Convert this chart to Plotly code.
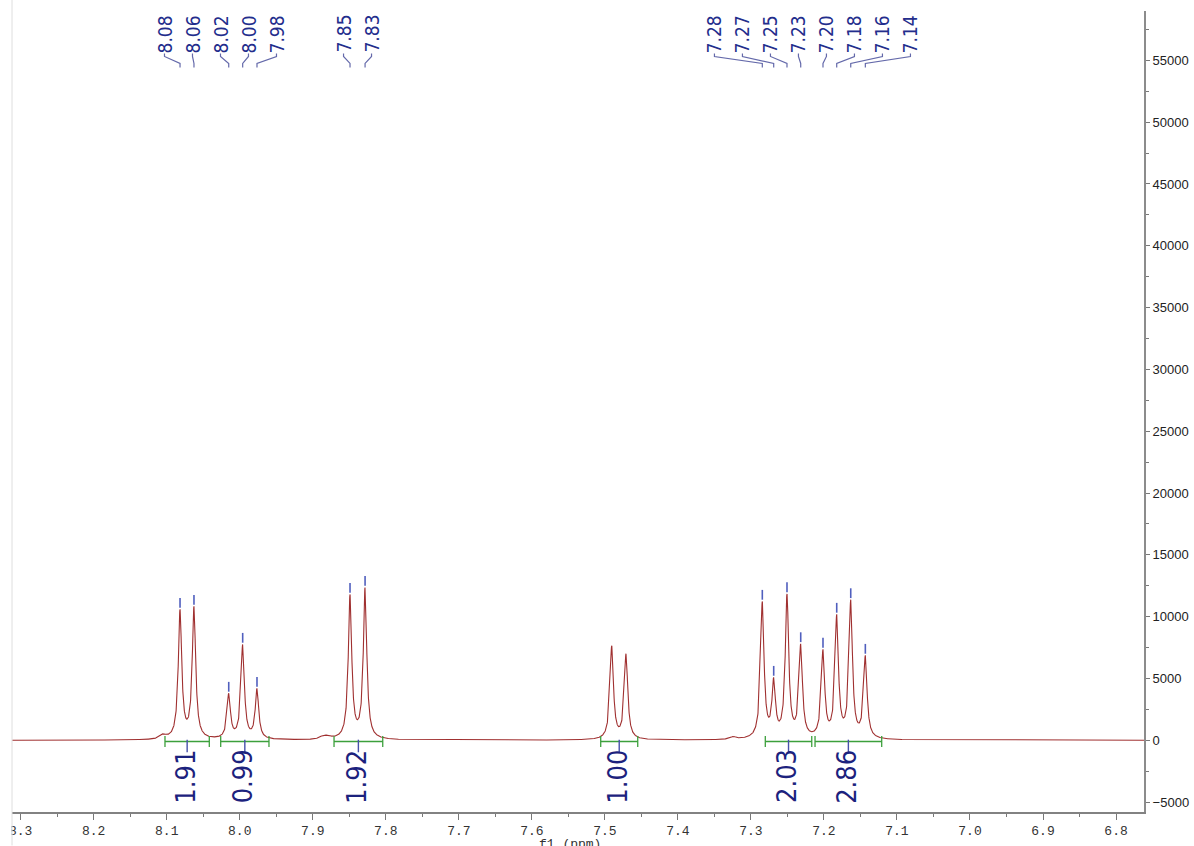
import numpy as np
import plotly.graph_objects as go

# ---------------- data ----------------
peak_ppm = [8.0818, 8.0627, 8.0151, 7.9960, 7.9764, 7.8490, 7.8284,
            7.4906, 7.4710,
            7.2844, 7.2688, 7.2506, 7.2318, 7.2013, 7.1825, 7.1633, 7.1433]
peak_height = [10590, 10830, 3800, 7760, 4200, 11800, 12370,
               7650, 7010,
               11240, 5090, 11850, 7810, 7360, 10190, 11370, 6870]
peak_is_labelled = [True] * 7 + [False] * 2 + [True] * 8
peak_label_text = ["8.08", "8.06", "8.02", "8.00", "7.98", "7.85", "7.83",
                   "7.28", "7.27", "7.25", "7.23", "7.20", "7.18", "7.16", "7.14"]
label_group_sizes = [5, 2, 8]

minor_ppm = [8.105, 7.886, 7.879, 7.324]
minor_height = [320, 230, 200, 200]

int_start = [8.1024, 8.0261, 7.8709, 7.5057, 7.2803, 7.2122]
int_end = [8.0417, 7.9600, 7.8042, 7.4550, 7.2167, 7.1209]
int_values = ["1.91", "0.99", "1.92", "1.00", "2.03", "2.86"]

x_title = "f1 (ppm)"

# ---------------- layout geometry ----------------
FIG_W, FIG_H = 1194, 846
L, R, T, B = 12, 1144, 11, 812.5
PW, PH = R - L, B - T
X_RANGE = [8.3119, 6.7617]
Y_RANGE = [-5804, 58989]
ppm_per_px = (X_RANGE[0] - X_RANGE[1]) / PW
val_per_px = (Y_RANGE[1] - Y_RANGE[0]) / PH


def ypaper(px):
    return (B - px) / PH


def xpaper(px):
    return (px - L) / PW


# ---------------- spectrum model (Lorentzian lines) ----------------
hwhm = 2.05 * ppm_per_px
pp = np.array(peak_ppm)
ph = np.array(peak_height, dtype=float)


def lor(d, w):
    return 1.0 / (1.0 + (d / w) ** 2)


A = lor(pp[:, None] - pp[None, :], hwhm)
amps = np.linalg.solve(A, ph)

x = np.arange(X_RANGE[1], X_RANGE[0], 0.0002)
y = (amps[None, :] * lor(x[:, None] - pp[None, :], hwhm)).sum(axis=1)
y += (np.array(minor_height)[None, :] *
      lor(x[:, None] - np.array(minor_ppm)[None, :], 3.5 * ppm_per_px)).sum(axis=1)

fig = go.Figure()

fig.add_trace(go.Scatter(x=x, y=y, mode="lines",
                         line=dict(color="rgb(160,48,48)", width=1.1),
                         hoverinfo="skip", showlegend=False))

# peak top marks
lab_ppm = [p for p, f in zip(peak_ppm, peak_is_labelled) if f]
lab_h = [h for h, f in zip(peak_height, peak_is_labelled) if f]
fig.add_trace(go.Scatter(x=lab_ppm, y=[h + 6.5 * val_per_px for h in lab_h],
                         mode="markers",
                         marker=dict(symbol="line-ns", size=7,
                                     line=dict(color="rgb(80,95,190)", width=1.6)),
                         hoverinfo="skip", showlegend=False))

# integrals
GREEN = "rgb(60,160,60)"
int_y = -100
LABEL_FONT = "Liberation Sans Narrow, Arial Narrow, DejaVu Sans Condensed, Liberation Sans, sans-serif"
for s, e, v in zip(int_start, int_end, int_values):
    fig.add_trace(go.Scatter(x=[s, e], y=[int_y, int_y], mode="lines+markers",
                             line=dict(color=GREEN, width=1.3),
                             marker=dict(symbol="line-ns", size=8,
                                         line=dict(color=GREEN, width=1.3)),
                             hoverinfo="skip", showlegend=False))
    mid = (s + e) / 2
    fig.add_trace(go.Scatter(x=[mid], y=[int_y - 4.5 * val_per_px], mode="markers",
                             marker=dict(symbol="line-ns", size=9,
                                         line=dict(color="rgb(70,80,170)", width=1.4)),
                             hoverinfo="skip", showlegend=False))
    fig.add_annotation(x=mid, y=ypaper(806), xref="x", yref="paper",
                       text=v, textangle=-90, showarrow=False,
                       xanchor="center", yanchor="bottom", xshift=-2,
                       font=dict(family=LABEL_FONT, size=27, color="rgb(28,34,125)"))

# top peak labels with connectors
NAVY = "rgb(35,45,140)"
spacing = 28 * ppm_per_px
shapes = []
idx = 0
for g in label_group_sizes:
    grp_ppm = lab_ppm[idx:idx + g]
    grp_txt = peak_label_text[idx:idx + g]
    centre = float(np.mean(grp_ppm))
    for k, (p, t) in enumerate(zip(grp_ppm, grp_txt)):
        lx = centre + ((g - 1) / 2 - k) * spacing
        fig.add_annotation(x=lx, y=ypaper(55), xref="x", yref="paper",
                           text=t, textangle=-90, showarrow=False,
                           xanchor="center", yanchor="bottom",
                           font=dict(family=LABEL_FONT, size=19, color=NAVY))
        shapes.append(dict(type="path", xref="x", yref="paper",
                           path=f"M {lx},{ypaper(53.5)} L {lx},{ypaper(56.5)} "
                                f"L {p},{ypaper(63.5)} L {p},{ypaper(67.5)}",
                           line=dict(color="rgb(100,105,170)", width=1.2)))
    idx += g

# clip the leftmost tick label like the reference and draw page border
shapes.append(dict(type="rect", xref="paper", yref="paper",
                   x0=xpaper(-5), x1=xpaper(11.5), y0=ypaper(846), y1=ypaper(815),
                   fillcolor="white", line=dict(width=0), layer="above"))
shapes.append(dict(type="line", xref="paper", yref="paper",
                   x0=xpaper(12), x1=xpaper(12), y0=ypaper(846), y1=ypaper(0),
                   line=dict(color="rgb(222,222,222)", width=1), layer="above"))

fig.add_annotation(x=xpaper(570), y=ypaper(836), xref="paper", yref="paper",
                   text=x_title, showarrow=False, xanchor="center", yanchor="top",
                   font=dict(family="Liberation Mono, monospace", size=13, color="#333"))

fig.update_layout(
    template="none",
    width=FIG_W, height=FIG_H,
    margin=dict(l=L, r=FIG_W - R, t=T, b=FIG_H - B, pad=0, autoexpand=False),
    paper_bgcolor="white", plot_bgcolor="white",
    shapes=shapes, showlegend=False,
    xaxis=dict(range=X_RANGE, automargin=False, tickmode="linear", tick0=6.8, dtick=0.1,
               tickformat=".1f", ticks="outside", ticklen=6, tickwidth=1,
               tickcolor="rgb(120,120,120)",
               minor=dict(dtick=0.05, ticks="outside", ticklen=3,
                          tickcolor="rgb(120,120,120)"),
               showline=True, linecolor="rgb(130,130,130)", linewidth=1.5,
               showgrid=False, zeroline=False,
               tickfont=dict(family="Liberation Mono, monospace", size=13, color="#333")),
    yaxis=dict(range=Y_RANGE, automargin=False, side="right", tickmode="linear", tick0=0, dtick=5000,
               tickformat="d", ticks="outside", ticklen=4, tickwidth=1,
               tickcolor="rgb(120,120,120)",
               minor=dict(dtick=2500, ticks="outside", ticklen=3,
                          tickcolor="rgb(120,120,120)"),
               showline=True, linecolor="rgb(140,140,140)", linewidth=2,
               showgrid=False, zeroline=False,
               tickfont=dict(family="Liberation Sans, Arial, sans-serif", size=13, color="#222")),
)

fig.write_html("out.html", config={"displayModeBar": False},
               post_script="document.body.style.margin='0';document.body.style.overflow='hidden';")
